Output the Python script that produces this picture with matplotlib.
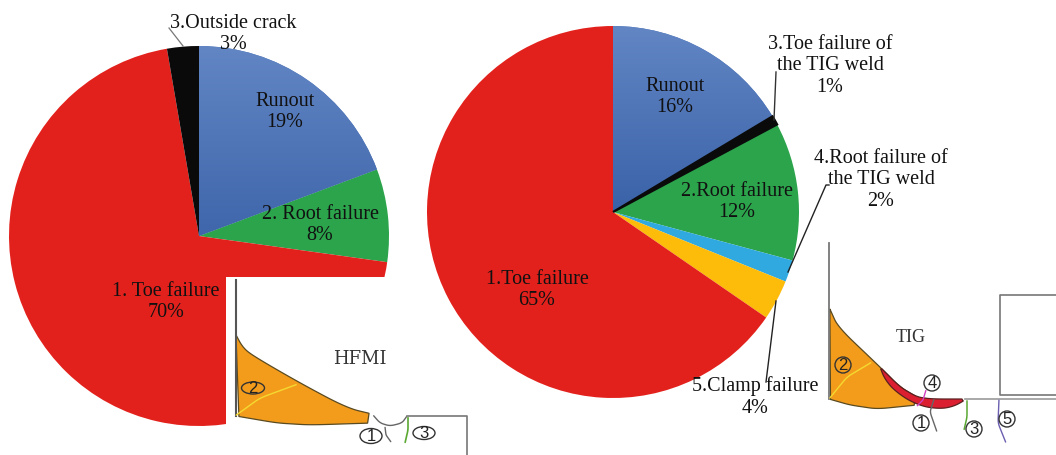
import matplotlib
matplotlib.use('Agg')
import matplotlib.pyplot as plt
import numpy as np
from matplotlib.patches import Rectangle, Ellipse, Polygon

plt.rcParams['font.family'] = ['Liberation Serif', 'DejaVu Serif']

W, H = 1056, 455

# left pie (HFMI)
hfmi_names = ['Runout', '2. Root failure', '1. Toe failure', '3.Outside crack']
hfmi_values = [19.3, 7.9, 70.1, 2.7]
hfmi_colors = ['#4a70b4', '#2ba44c', '#e3211c', '#0a0a0a']

# right pie (TIG)
tig_names = ['Runout', '3.Toe failure of\nthe TIG weld', '2.Root failure',
             '4.Root failure of\nthe TIG weld', '5.Clamp failure', '1.Toe failure']
tig_values = [16.4, 0.8, 12, 1.9, 3.5, 65.4]
tig_colors = ['#4a70b4', '#0a0a0a', '#2ba44c', '#2fa9e0', '#fdbb0a', '#e3211c']


def Y(y):
    # picture pixels count from the top
    return H - y


def smooth(pts):
    # rounds off a few hand read points
    pts = np.array(pts, dtype=float)
    t = np.arange(len(pts))
    tt = np.linspace(0, len(pts) - 1, 80)
    x = np.interp(tt, t, pts[:, 0])
    y = np.interp(tt, t, pts[:, 1])
    k = np.ones(15) / 15
    x2 = np.convolve(np.r_[[x[0]] * 7, x, [x[-1]] * 7], k, 'valid')
    y2 = np.convolve(np.r_[[y[0]] * 7, y, [y[-1]] * 7], k, 'valid')
    return np.c_[x2, y2]


def curve(ax, pts, color='#555555', lw=1.2):
    p = smooth(pts)
    ax.plot(p[:, 0], Y(p[:, 1]), color=color, lw=lw, solid_capstyle='round', zorder=6)


def blob(ax, parts, fc, ec, z=5):
    p = np.vstack([smooth(q) for q in parts])
    ax.add_patch(Polygon(np.c_[p[:, 0], Y(p[:, 1])], fc=fc, ec=ec, lw=0.9, zorder=z))


def gradient(ax, wedge, c1, c2, box):
    # shade one slice from top to bottom
    a = np.array(matplotlib.colors.to_rgb(c1))
    b = np.array(matplotlib.colors.to_rgb(c2))
    g = np.linspace(0, 1, 100)[:, None, None]
    img = a[None, None, :] * (1 - g) + b[None, None, :] * g
    im = ax.imshow(img, extent=box, origin='upper', aspect='auto', zorder=wedge.get_zorder() + 0.1)
    im.set_clip_path(wedge)


def circled(ax, x, y, s, w=16, h=16, fs=12):
    ax.add_patch(Ellipse((x, Y(y)), w, h, fc='none', ec='#333333', lw=1, zorder=7))
    ax.text(x, Y(y) - 0.5, s, ha='center', va='center', fontsize=fs, color='#222222', zorder=8,
            family='Liberation Sans')


def label(ax, x, y, s, v):
    ax.text(x, Y(y + 2), s + '\n%.0f%%' % v, ha='center', va='center', fontsize=14.5, color='#111111',
            zorder=9, linespacing=1.2)


fig = plt.figure(figsize=(W / 100, H / 100), dpi=100)
ax = fig.add_axes([0, 0, 1, 1])

w1, _ = ax.pie(hfmi_values, colors=hfmi_colors, startangle=90, counterclock=False,
               center=(199, Y(236)), radius=190, frame=True)
w2, _ = ax.pie(tig_values, colors=tig_colors, startangle=90, counterclock=False,
               center=(613, Y(212)), radius=186, frame=True)

# the thin black slice keeps its width down to the centre
w2[1].set_edgecolor('#0a0a0a')
w2[1].set_linewidth(1.6)
w2[1].set_zorder(w2[0].get_zorder() + 0.2)

gradient(ax, w1[0], '#6286c4', '#3f66ab', (199, 380, Y(236), Y(46)))
gradient(ax, w2[0], '#6286c4', '#3a62a8', (613, 780, Y(212), Y(26)))

# corner of the left pie is hidden by the HFMI sketch
ax.add_patch(Rectangle((226, 0), 180, Y(277), fc='white', ec='none', zorder=4))

ax.set_xlim(0, W)
ax.set_ylim(0, H)
ax.set_aspect('auto')
ax.axis('off')

label(ax, 285, 110, hfmi_names[0], hfmi_values[0])
label(ax, 320, 223, hfmi_names[1], hfmi_values[1])
label(ax, 166, 300, hfmi_names[2], hfmi_values[2])
label(ax, 233, 32, hfmi_names[3], hfmi_values[3])

label(ax, 675, 95, tig_names[0], tig_values[0])
label(ax, 830, 64, tig_names[1], tig_values[1])
label(ax, 737, 200, tig_names[2], tig_values[2])
label(ax, 881, 178, tig_names[3], tig_values[3])
label(ax, 755, 395, tig_names[4], tig_values[4])
label(ax, 537, 288, tig_names[5], tig_values[5])

# leader lines
ax.plot([169, 183], [Y(28), Y(46)], color='#777777', lw=0.9, zorder=9)
ax.plot([776, 774], [Y(72), Y(120)], color='#333333', lw=1, zorder=9)
ax.plot([829, 826, 788], [Y(185), Y(185), Y(272)], color='#222222', lw=1, zorder=9)
ax.plot([776, 766], [Y(301), Y(382)], color='#222222', lw=1, zorder=9)

# HFMI sketch
blob(ax, [[(235, 333), (243, 348), (255, 357), (300, 383), (347, 408), (372, 414)],
          [(372, 423), (310, 425), (277, 423), (236, 416)]], '#f39c1c', '#5a4a20')
ax.plot([235.5, 235.5], [Y(280), Y(416)], color='#555555', lw=1.5, zorder=6)
curve(ax, [(235, 416), (260, 398), (298, 384)], color='#f5d930', lw=1)
curve(ax, [(373, 415), (380, 423), (390, 426), (402, 423), (407, 416)], color='#666666', lw=1)
ax.plot([407, 467, 467], [Y(416), Y(416), Y(455)], color='#777777', lw=1.2, zorder=6)
curve(ax, [(385, 427), (386, 435), (391, 442)], color='#666666', lw=1)
curve(ax, [(408, 417), (408, 430), (405, 443)], color='#5aa832', lw=1.2)
circled(ax, 371, 436, '1', w=22, h=15)
circled(ax, 424, 433, '3', w=22, h=13)
circled(ax, 253, 388, '2', w=23, h=12)
ax.text(360, Y(359), 'HFMI', ha='center', va='center', fontsize=13, color='#333333', zorder=8,
        family='DejaVu Serif')

# TIG sketch
blob(ax, [[(829, 307), (838, 327), (880, 367), (900, 387), (917, 397)],
          [(917, 405), (877, 409), (850, 405), (829, 399)]], '#f39c1c', '#5a4a20')
blob(ax, [[(880, 367), (900, 387), (917, 397), (932, 399), (965, 399)],
          [(965, 400), (953, 407), (937, 409), (917, 405), (897, 393), (885, 380), (880, 367)]],
     '#dc1f30', '#5a2020', z=5.5)
ax.plot([828.5, 828.5], [Y(243), Y(399)], color='#777777', lw=1.3, zorder=6)
curve(ax, [(829, 399), (847, 377), (872, 362)], color='#f5d930', lw=1)
ax.plot([965, 1056], [Y(399), Y(399)], color='#999999', lw=1.2, zorder=6)
ax.plot([1056, 999.5, 999.5, 1056], [Y(295), Y(295), Y(395), Y(395)], color='#777777', lw=1.2, zorder=6)
curve(ax, [(934, 399), (930, 412), (937, 432)], color='#666666', lw=1)
curve(ax, [(967, 400), (967, 417), (964, 430)], color='#5aa832', lw=1.1)
curve(ax, [(999, 399), (998, 423), (1006, 443)], color='#6a5fb0', lw=1)
curve(ax, [(926, 390), (923, 400), (917, 406)], color='#d040c0', lw=1)
circled(ax, 921, 423, '1')
circled(ax, 974, 429, '3')
circled(ax, 1007, 419, '5')
circled(ax, 932, 383, '4')
circled(ax, 843, 365, '2')
ax.text(911, Y(337), 'TIG', ha='center', va='center', fontsize=13, color='#333333', zorder=8)

fig.savefig('out.png', dpi=100)
